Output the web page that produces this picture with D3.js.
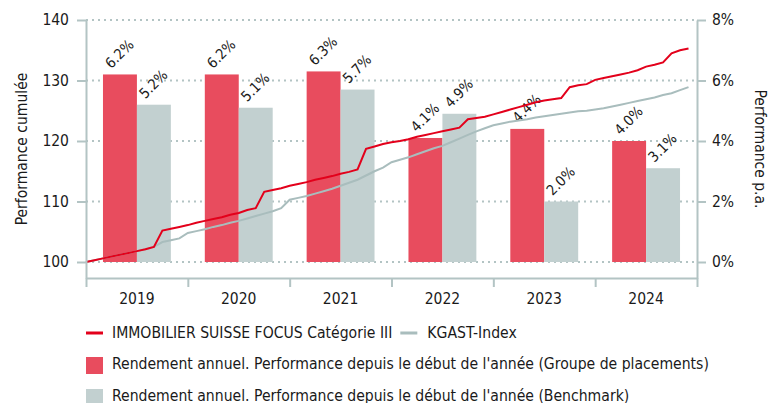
<!DOCTYPE html>
<html>
<head>
<meta charset="utf-8">
<script src="https://cdn.jsdelivr.net/npm/d3@7"></script>
<style>
  body { margin: 0; background: #fff; }
  svg text { font-family: "DejaVu Sans Condensed", "DejaVu Sans", sans-serif; fill: #1a1a1a; }
</style>
</head>
<body>
<div id="chart"></div>
<script>
// Données
const annees = ["2019", "2020", "2021", "2022", "2023", "2024"];
const rendementFonds = [6.2, 6.2, 6.3, 4.1, 4.4, 4.0];
const rendementBench = [5.2, 5.1, 5.7, 4.9, 2.0, 3.1];

// performance cumulée, une valeur par mois (début janvier 2019 -> décembre 2024)
const perfFonds = [
  100.0, 100.3, 100.6, 100.9, 101.2, 101.5, 101.8, 102.1, 102.5, 105.2, 105.5, 105.8,
  106.1, 106.5, 106.8, 107.1, 107.4, 107.8, 108.1, 108.6, 108.9, 111.6, 111.9, 112.2,
  112.6, 112.9, 113.2, 113.6, 113.9, 114.2, 114.6, 114.9, 115.3, 118.7, 119.1, 119.5,
  119.8, 120.0, 120.3, 120.7, 121.0, 121.3, 121.6, 121.9, 122.2, 123.6, 123.8, 124.0,
  124.4, 124.8, 125.2, 125.6, 126.0, 126.4, 126.7, 126.9, 127.1, 128.9, 129.2, 129.4,
  130.1, 130.4, 130.7, 131.0, 131.3, 131.7, 132.3, 132.6, 133.0, 134.5, 135.0, 135.3
];
const perfBench = [
  100.0, 100.3, 100.6, 100.9, 101.2, 101.5, 101.8, 102.1, 102.5, 103.3, 103.6, 103.9,
  104.8, 105.1, 105.4, 105.8, 106.1, 106.5, 106.8, 107.2, 107.6, 108.0, 108.4, 108.9,
  110.3, 110.6, 110.9, 111.3, 111.7, 112.1, 112.6, 113.1, 113.6, 114.3, 115.0, 115.6,
  116.5, 116.9, 117.3, 117.8, 118.3, 118.8, 119.2, 119.8, 120.4, 121.0, 121.6, 122.1,
  122.6, 122.9, 123.2, 123.4, 123.6, 123.9, 124.1, 124.3, 124.5, 124.7, 124.9, 125.0,
  125.2, 125.4, 125.7, 126.0, 126.3, 126.6, 126.9, 127.2, 127.6, 127.9, 128.4, 128.9
];

const ticksGauche = [100, 110, 120, 130, 140];
const ticksDroite = [0, 2, 4, 6, 8];

const nomFonds = "IMMOBILIER SUISSE FOCUS Catégorie III";
const nomBench = "KGAST-Index";
const legendeBarres = [
  "Rendement annuel. Performance depuis le début de l'année (Groupe de placements)",
  "Rendement annuel. Performance depuis le début de l'année (Benchmark)"
];

// Couleurs
const rougeLigne = "#e3001b";
const grisLigne = "#a9bdbd";
const rougeBarre = "#e84c5e";
const grisBarre = "#c2d0d0";
const couleurAxe = "#b3c4c4";

const W = 776, H = 403;
const gauche = 86, droite = 697, haut = 20, bas = 278;

const svg = d3.select("#chart")
    .append("svg")
    .attr("width", W)
    .attr("height", H);

// Echelles
const yG = d3.scaleLinear().domain([100, 140]).range([262, haut]);
yG.domain([yG.invert(bas), 140]).range([bas, haut]);
const yD = d3.scaleLinear().domain([0, 8]).range([262, haut]);
yD.domain([yD.invert(bas), 8]).range([bas, haut]);

const x = d3.scaleBand().domain(annees).range([gauche, droite]);
const xSous = d3.scaleBand().domain([0, 1]).range([0, x.bandwidth()]).paddingOuter(0.5);
const xMois = d3.scaleLinear().domain([0, 72]).range([gauche, droite]);
const xAxe = d3.scaleLinear().domain([0, 6]).range([gauche, droite]);

// Grille pointillée
svg.append("g")
    .selectAll("line")
    .data(ticksGauche)
    .join("line")
    .attr("x1", gauche)
    .attr("x2", droite)
    .attr("y1", d => yG(d))
    .attr("y2", d => yG(d))
    .attr("stroke", couleurAxe)
    .attr("stroke-width", 2)
    .attr("stroke-dasharray", "2,4");

// Barres
const barres = [];
annees.forEach((a, i) => {
    barres.push({ annee: a, k: 0, v: rendementFonds[i] });
    barres.push({ annee: a, k: 1, v: rendementBench[i] });
});

svg.append("g")
    .selectAll("rect")
    .data(barres)
    .join("rect")
    .attr("x", d => x(d.annee) + xSous(d.k))
    .attr("y", d => yD(d.v))
    .attr("width", xSous.bandwidth())
    .attr("height", d => yD(0) - yD(d.v))
    .attr("fill", d => d.k === 0 ? rougeBarre : grisBarre);

// Etiquettes des barres
svg.append("g")
    .selectAll("text")
    .data(barres)
    .join("text")
    .attr("transform", d => {
        const cx = x(d.annee) + xSous(d.k) + xSous.bandwidth() / 2;
        return `translate(${cx + 3},${yD(d.v) - 17}) rotate(-45)`;
    })
    .attr("text-anchor", "middle")
    .style("font-size", "14.5px")
    .text(d => d3.format(".1f")(d.v) + "%");

// Lignes de performance cumulée
const ligne = d3.line()
    .x((d, i) => xMois(i))
    .y(d => yG(d));

svg.append("path")
    .datum(perfBench)
    .attr("d", ligne)
    .attr("fill", "none")
    .attr("stroke", grisLigne)
    .attr("stroke-width", 2);

svg.append("path")
    .datum(perfFonds)
    .attr("d", ligne)
    .attr("fill", "none")
    .attr("stroke", rougeLigne)
    .attr("stroke-width", 2);

// Axes
function styleAxe(g) {
    g.selectAll(".domain").attr("stroke", couleurAxe).attr("stroke-width", 2);
    g.selectAll(".tick line").attr("stroke", couleurAxe).attr("stroke-width", 2);
    g.selectAll(".tick text").style("font-size", "15.5px").attr("fill", "#1a1a1a");
}

svg.append("g")
    .attr("transform", `translate(${gauche},0)`)
    .call(d3.axisLeft(yG).tickValues(ticksGauche).tickSize(9).tickPadding(8).tickSizeOuter(0))
    .call(styleAxe);

svg.append("g")
    .attr("transform", `translate(${droite},0)`)
    .call(d3.axisRight(yD).tickValues(ticksDroite).tickSize(9).tickPadding(6).tickSizeOuter(0)
        .tickFormat(d => d + "%"))
    .call(styleAxe);

svg.append("g")
    .attr("transform", `translate(0,${bas})`)
    .call(d3.axisBottom(xAxe).ticks(6).tickSize(9).tickSizeOuter(0).tickFormat(""))
    .call(styleAxe);

svg.append("g")
    .selectAll("text")
    .data(annees)
    .join("text")
    .attr("x", d => x(d) + x.bandwidth() / 2)
    .attr("y", 304)
    .attr("text-anchor", "middle")
    .style("font-size", "15.5px")
    .text(d => d);

// Titres des axes
svg.append("text")
    .attr("transform", `translate(27,${(haut + bas) / 2}) rotate(-90)`)
    .attr("text-anchor", "middle")
    .style("font-size", "15.5px")
    .text("Performance cumulée");

svg.append("text")
    .attr("transform", `translate(755,${(haut + bas) / 2}) rotate(90)`)
    .attr("text-anchor", "middle")
    .style("font-size", "15.5px")
    .text("Performance p.a.");

// Légende
const leg = svg.append("g");
leg.append("line")
    .attr("x1", 86).attr("x2", 103).attr("y1", 333).attr("y2", 333)
    .attr("stroke", rougeLigne).attr("stroke-width", 3);
const t1 = leg.append("text")
    .attr("x", 112).attr("y", 338)
    .style("font-size", "15.6px")
    .text(nomFonds);
const fin1 = 112 + t1.node().getComputedTextLength();
leg.append("line")
    .attr("x1", fin1 + 8).attr("x2", fin1 + 25).attr("y1", 333).attr("y2", 333)
    .attr("stroke", grisLigne).attr("stroke-width", 3);
leg.append("text")
    .attr("x", fin1 + 35).attr("y", 338)
    .style("font-size", "15.6px")
    .text(nomBench);

leg.selectAll(".carre")
    .data(legendeBarres)
    .join("rect")
    .attr("class", "carre")
    .attr("x", 86)
    .attr("y", (d, i) => 357 + i * 32)
    .attr("width", 17)
    .attr("height", 17)
    .attr("fill", (d, i) => i === 0 ? rougeBarre : grisBarre);

leg.selectAll(".lib")
    .data(legendeBarres)
    .join("text")
    .attr("class", "lib")
    .attr("x", 112)
    .attr("y", (d, i) => 369 + i * 32)
    .style("font-size", "15.6px")
    .text(d => d);
</script>
</body>
</html>
